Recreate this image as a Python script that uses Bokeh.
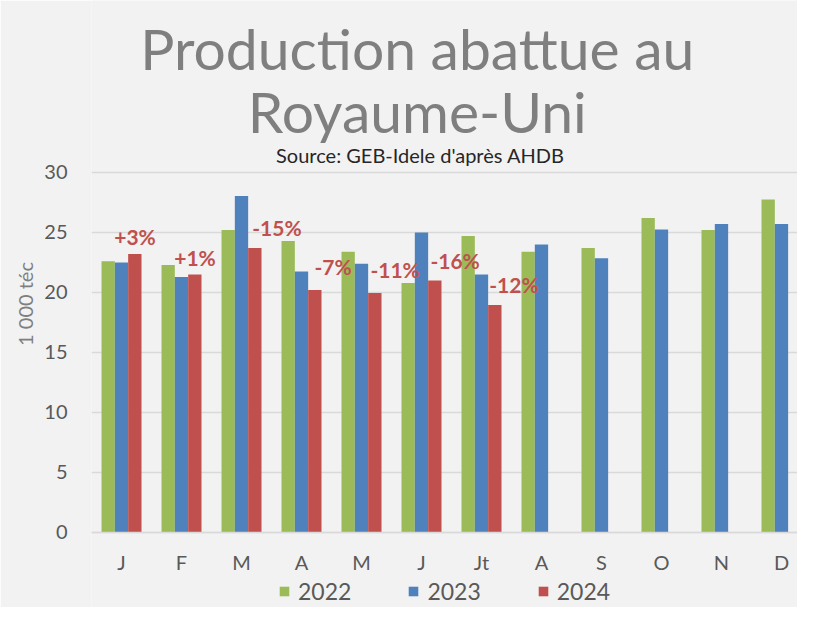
from bokeh.plotting import figure
from bokeh.models import (ColumnDataSource, Range1d, FixedTicker, Label, Legend, LegendItem)
from bokeh.core.properties import value
from bokeh.transform import dodge
from bokeh.embed import file_html
from bokeh.resources import INLINE

# ---- data ----
months = ["J", "F", "M", "A", "M", "J", "Jt", "A", "S", "O", "N", "D"]
prod_2022 = [22.6, 22.3, 25.2, 24.3, 23.4, 20.8, 24.7, 23.4, 23.7, 26.2, 25.2, 27.75]
prod_2023 = [22.5, 21.3, 28.05, 21.75, 22.4, 25.0, 21.5, 24.0, 22.85, 25.25, 25.7, 25.7]
prod_2024 = [23.2, 21.5, 23.7, 20.2, 19.95, 21.0, 18.95]
var_labels = ["+3%", "+1%", "-15%", "-7%", "-11%", "-16%", "-12%"]
y_ticks = [0, 5, 10, 15, 20, 25, 30]

# ---- layout (positions of the percentage labels) ----
lab_dx = [0.225, 0.225, 0.59, 0.525, 0.56, 0.56, 0.54]
lab_y = [24.65, 22.95, 25.4, 22.15, 21.95, 22.65, 20.65]

FONT = "Lato"
GREEN, BLUE, RED = "#9BBB59", "#4F81BD", "#C0504D"
BG = "#F2F2F2"

xs = list(range(1, 13))
src22 = ColumnDataSource(dict(x=xs, y=prod_2022))
src23 = ColumnDataSource(dict(x=xs, y=prod_2023))
src24 = ColumnDataSource(dict(x=xs[:len(prod_2024)], y=prod_2024))
srclab = ColumnDataSource(dict(x=[xs[i] + lab_dx[i] for i in range(len(var_labels))],
                               y=lab_y, t=var_labels))

# 12 px per y unit, 60 px per month; frame spans the full figure height
p = figure(width=797, height=607, output_backend="svg", toolbar_location=None,
           x_range=Range1d(0.5, 12.267), y_range=Range1d(-6.25, 44.333),
           min_border_left=91, min_border_right=0, min_border_top=0, min_border_bottom=0,
           background_fill_color=BG, border_fill_color=BG, outline_line_color=None)

w = 1 / 4.5
r22 = p.vbar(x=dodge("x", -w), top="y", width=w, source=src22, fill_color=GREEN, line_color=None)
r23 = p.vbar(x=dodge("x", 0), top="y", width=w, source=src23, fill_color=BLUE, line_color=None)
r24 = p.vbar(x=dodge("x", w), top="y", width=w, source=src24, fill_color=RED, line_color=None)

p.text(x="x", y="y", text="t", source=srclab, text_color=RED, text_font=value(FONT),
       text_font_size="21px", text_font_style="bold", text_align="center",
       text_baseline="middle")

# axes
p.xaxis.fixed_location = 0
p.xaxis.ticker = FixedTicker(ticks=xs)
p.xaxis.major_label_overrides = {i + 1: m for i, m in enumerate(months)}
p.yaxis.ticker = FixedTicker(ticks=y_ticks)
for ax in (p.xaxis[0], p.yaxis[0]):
    ax.major_tick_line_color = None
    ax.minor_tick_line_color = None
    ax.major_label_text_font = FONT
    ax.major_label_text_font_size = "20px"
    ax.major_label_text_color = "#595959"
p.xaxis.axis_line_color = "#D9D9D9"
p.xaxis.axis_line_width = 1.5
p.yaxis.axis_line_color = None
p.xaxis.major_label_standoff = 12
p.yaxis.major_label_standoff = 18
p.yaxis.axis_label = "1 000 téc"
p.yaxis.axis_label_text_font = FONT
p.yaxis.axis_label_text_font_size = "20px"
p.yaxis.axis_label_text_font_style = "normal"
p.yaxis.axis_label_text_color = "#7F7F7F"
p.yaxis.axis_label_standoff = 4
p.xgrid.grid_line_color = None
p.ygrid.grid_line_color = "#D9D9D9"
p.ygrid.grid_line_width = 1.5

# titles
TITLE_X = 5.93
p.add_layout(Label(x=TITLE_X, y=40.35, text="Production abattue au", text_font=FONT,
                   text_font_size="57px", text_color="#7F7F7F", text_align="center",
                   text_baseline="alphabetic"))
p.add_layout(Label(x=TITLE_X, y=35.1, text="Royaume-Uni", text_font=FONT,
                   text_font_size="57px", text_color="#7F7F7F", text_align="center",
                   text_baseline="alphabetic"))
p.add_layout(Label(x=TITLE_X + 0.05, y=31.45, text="Source: GEB-Idele d'après AHDB", text_font=FONT,
                   text_font_size="20px", text_color="#262626", text_align="center",
                   text_baseline="alphabetic"))

legend = Legend(items=[LegendItem(label="2022", renderers=[r22]),
                       LegendItem(label="2023", renderers=[r23]),
                       LegendItem(label="2024", renderers=[r24])],
                orientation="horizontal", location=(187, 2),
                glyph_width=12, glyph_height=12, label_standoff=8, spacing=56,
                padding=0, margin=0, border_line_color=None, background_fill_alpha=0,
                label_text_font=FONT, label_text_font_size="23px",
                label_text_color="#595959")
p.add_layout(legend)

open("out.html", "w").write(file_html(p, INLINE))
